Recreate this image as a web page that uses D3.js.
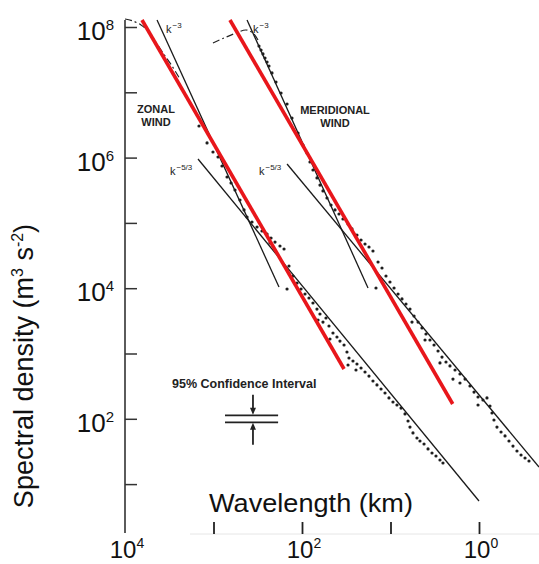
<!DOCTYPE html>
<html><head><meta charset="utf-8">
<script src="https://cdn.jsdelivr.net/npm/d3@7"></script>
<style>body{margin:0;background:#fff}svg{display:block;font-family:"Liberation Sans",Arial,Helvetica,sans-serif}</style>
</head><body>
<svg id="chart" width="539" height="564"></svg>
<script>
// All values are in decades: [log10 wavelength (km), log10 spectral density (m^3 s^-2)]
const yMajorTicks = [8, 6, 4, 2];
const yMinorTicks = [7, 5, 3, 1];
const xTicks = [3, 2, 1, 0];
const xTickLabels = [4, 2, 0];

const redZonal = [[3.808, 8.107], [1.525, 2.763]];
const redMeridional = [[2.814, 8.107], [0.297, 2.227]];

const zonalK3 = [[3.638, 8.107], [2.260, 4.018]];
const zonalK53 = [[3.175, 5.979], [0.0, 0.741]];
const meridionalK3 = [[2.621, 8.107], [1.254, 4.003]];
const meridionalK53 = [[2.169, 5.902], [-0.678, 1.262]];

const zonalDashed = [[4.000, 8.123], [3.910, 8.092], [3.819, 8.031], [3.740, 7.939], [3.661, 7.786],
  [3.571, 7.602], [3.469, 7.403], [3.379, 7.204]];
const meridionalDashed = [[3.006, 7.755], [2.881, 7.832], [2.746, 7.908], [2.633, 7.954], [2.554, 7.908], [2.497, 7.801]];

const zonalPoints = [
  [3.164, 6.484], [3.073, 6.224], [3.006, 6.086], [2.949, 6.009], [2.904, 5.871], [2.847, 5.703],
  [2.802, 5.611], [2.757, 5.504], [2.701, 5.351], [2.655, 5.198], [2.621, 5.090], [2.565, 5.014],
  [2.508, 4.937], [2.452, 4.876], [2.395, 4.830], [2.350, 4.769], [2.305, 4.707], [2.249, 4.646],
  [2.203, 4.600], [2.362, 4.692], [2.147, 4.340], [2.102, 4.187], [2.056, 4.080], [2.011, 3.988],
  [1.966, 3.911], [1.921, 3.850], [1.876, 3.773], [1.831, 3.681], [1.797, 3.605], [1.763, 3.482],
  [1.729, 3.544], [1.695, 3.421], [1.650, 3.314], [1.605, 3.253], [1.571, 3.191], [1.525, 3.130],
  [1.492, 3.023], [1.469, 2.931], [1.424, 2.885], [1.379, 2.839], [1.333, 2.778], [1.288, 2.717],
  [1.243, 2.655], [1.198, 2.579], [1.153, 2.518], [1.107, 2.456], [1.062, 2.395], [1.017, 2.319],
  [0.972, 2.257], [0.927, 2.211], [0.881, 2.165], [1.819, 3.513], [1.684, 3.222], [1.480, 2.824],
  [1.390, 2.747], [0.836, 2.074], [0.802, 1.966], [0.780, 1.874], [0.746, 1.783], [0.701, 1.706],
  [0.667, 1.660], [0.621, 1.614], [0.576, 1.538], [0.531, 1.476], [0.486, 1.430], [0.441, 1.369],
  [0.407, 1.323], [2.169, 3.988]
];

const meridionalPoints = [
  [2.486, 7.709], [2.463, 7.648], [2.441, 7.587], [2.418, 7.525], [2.395, 7.464], [2.373, 7.403],
  [2.339, 7.296], [2.294, 7.158], [2.237, 6.989], [2.169, 6.821], [2.113, 6.606], [2.045, 6.377],
  [1.989, 6.193], [1.944, 6.070], [1.910, 5.933], [1.876, 5.810], [1.831, 5.688], [1.797, 5.580],
  [1.763, 5.489], [1.718, 5.381], [1.672, 5.274], [1.627, 5.198], [1.582, 5.136], [1.537, 5.060],
  [1.480, 4.983], [1.435, 4.907], [1.379, 4.815], [1.333, 4.738], [1.288, 4.677], [1.243, 4.631],
  [1.198, 4.570], [1.141, 4.401], [1.096, 4.309], [1.051, 4.187], [1.006, 4.095], [0.960, 4.003],
  [0.915, 3.911], [0.870, 3.835], [0.825, 3.758], [0.780, 3.681], [0.734, 3.574], [0.689, 3.482],
  [0.644, 3.391], [0.599, 3.299], [0.554, 3.207], [0.508, 3.130], [0.463, 3.038], [0.418, 2.946],
  [0.373, 2.870], [0.328, 2.809], [0.271, 2.747], [0.215, 2.686], [0.158, 2.609], [0.102, 2.502],
  [0.056, 2.410], [0.011, 2.334], [-0.045, 2.288], [-0.090, 2.319], [-0.124, 2.196], [-0.147, 2.089],
  [-0.169, 1.982], [-0.203, 1.874], [-0.249, 1.798], [-0.294, 1.737], [-0.339, 1.660], [-0.384, 1.583],
  [-0.429, 1.507], [-0.475, 1.446], [-0.520, 1.400], [-0.565, 1.354], [0.294, 2.609], [0.011, 2.211],
  [0.441, 2.855], [0.610, 3.207], [0.757, 3.482], [0.215, 2.548], [1.164, 4.003]
];

// 95% confidence interval marker (centre at 10^2)
const ciCenter = [2.554, 2.0];
const ciSpan = [2.87, 2.27];

const svg = d3.select("#chart");
const x = d3.scaleLinear().domain([4, 0]).range([125, 479]);
const y = d3.scaleLinear().domain([8, 0]).range([27, 549.4]);
const line = d3.line().x(d => x(d[0])).y(d => y(d[1]));

// Y axis
svg.append("line").attr("x1", 125).attr("x2", 125).attr("y1", y(8.107)).attr("y2", y(0.25))
  .attr("stroke", "#333").attr("stroke-width", 1.6);
const gy = svg.append("g").attr("transform", "translate(125,0)")
  .call(d3.axisRight(y).tickValues(yMajorTicks.concat(yMinorTicks)).tickSize(12).tickFormat(""));
gy.select(".domain").remove();
gy.selectAll(".tick line").attr("stroke", "#333").attr("stroke-width", 1.5);

yMajorTicks.forEach(v => {
  const t = svg.append("text").attr("x", 114).attr("y", y(v) + 13).attr("text-anchor", "end")
    .attr("fill", "#111").attr("font-size", 26);
  t.append("tspan").text("10");
  t.append("tspan").attr("font-size", 15).attr("dy", -10).text(v);
});

// X axis
svg.append("line").attr("x1", 190).attr("x2", 539).attr("y1", 534).attr("y2", 534)
  .attr("stroke", "#e6e6e6").attr("stroke-width", 1);
const gx = svg.append("g").attr("transform", "translate(0,534)")
  .call(d3.axisTop(x).tickValues(xTicks).tickSize(12).tickFormat(""));
gx.select(".domain").remove();
gx.selectAll(".tick line").attr("stroke", "#222").attr("stroke-width", 1.8);

xTickLabels.forEach(v => {
  const t = svg.append("text").attr("x", x(v) + 2).attr("y", 558).attr("text-anchor", "middle")
    .attr("fill", "#111").attr("font-size", 24);
  t.append("tspan").text("10");
  t.append("tspan").attr("font-size", 14).attr("dy", -10).text(v);
});

svg.append("text").attr("x", 311).attr("y", 512).attr("text-anchor", "middle")
  .attr("font-size", 26).attr("fill", "#111").attr("textLength", 204).attr("lengthAdjust", "spacingAndGlyphs")
  .text("Wavelength (km)");

const yt = svg.append("text").attr("transform", "translate(33,366) rotate(-90)")
  .attr("text-anchor", "middle").attr("font-size", 27).attr("fill", "#111");
yt.append("tspan").text("Spectral density (m");
yt.append("tspan").attr("font-size", 16).attr("dy", -10).text("3");
yt.append("tspan").attr("dy", 10).text(" s");
yt.append("tspan").attr("font-size", 16).attr("dy", -10).text("-2");
yt.append("tspan").attr("dy", 10).text(")");

// Reference slope lines
[zonalK3, zonalK53, meridionalK3, meridionalK53].forEach(d => {
  svg.append("path").attr("d", line(d)).attr("fill", "none").attr("stroke", "#1a1a1a").attr("stroke-width", 1.3);
});

// Dash-dot low wavenumber segments
[zonalDashed, meridionalDashed].forEach(d => {
  svg.append("path").attr("d", d3.line().curve(d3.curveCatmullRom).x(p => x(p[0])).y(p => y(p[1]))(d))
    .attr("fill", "none").attr("stroke", "#222").attr("stroke-width", 1.2).attr("stroke-dasharray", "7,3,2,3");
});

// Data points
[zonalPoints, meridionalPoints].forEach(d => {
  svg.append("g").selectAll("circle").data(d).join("circle")
    .attr("cx", p => x(p[0])).attr("cy", p => y(p[1])).attr("r", 1.6).attr("fill", "#1e1e1e");
});

// Red lines
[redZonal, redMeridional].forEach(d => {
  svg.append("path").attr("d", line(d)).attr("fill", "none").attr("stroke", "#e8161b").attr("stroke-width", 3.6);
});

// Small labels
function smallLabel(lines, cx, y0) {
  lines.forEach((s, i) => svg.append("text").attr("x", cx).attr("y", y0 + i * 12.5).attr("text-anchor", "middle")
    .attr("font-size", 11).attr("font-weight", "bold").attr("fill", "#222").text(s));
}
smallLabel(["ZONAL", "WIND"], 156, 113);
smallLabel(["MERIDIONAL", "WIND"], 335, 114);

function kLabel(xk, yk, exp) {
  const t = svg.append("text").attr("x", xk).attr("y", yk).attr("font-size", 11).attr("fill", "#222");
  t.append("tspan").text("k");
  t.append("tspan").attr("font-size", 8).attr("dy", -5).attr("dx", 1).text(exp);
}
kLabel(166, 33, "\u22123");
kLabel(253, 33, "\u22123");
kLabel(170, 175, "\u22125/3");
kLabel(259, 175, "\u22125/3");

svg.append("text").attr("x", 172).attr("y", 388).attr("font-size", 12.5).attr("font-weight", "bold")
  .attr("fill", "#222").text("95% Confidence Interval");

// CI marker
const cx = x(ciCenter[0]), cy = y(ciCenter[1]);
svg.append("line").attr("x1", x(ciSpan[0])).attr("x2", x(ciSpan[1])).attr("y1", cy - 3.5).attr("y2", cy - 3.5)
  .attr("stroke", "#222").attr("stroke-width", 1.8);
svg.append("line").attr("x1", x(ciSpan[0])).attr("x2", x(ciSpan[1])).attr("y1", cy + 3.5).attr("y2", cy + 3.5)
  .attr("stroke", "#222").attr("stroke-width", 1.8);
svg.append("line").attr("x1", cx).attr("x2", cx).attr("y1", cy - 24).attr("y2", cy - 10)
  .attr("stroke", "#222").attr("stroke-width", 1.8);
svg.append("line").attr("x1", cx).attr("x2", cx).attr("y1", cy + 10).attr("y2", cy + 26)
  .attr("stroke", "#222").attr("stroke-width", 1.8);
svg.append("path").attr("d", `M${cx - 3},${cy - 11}L${cx + 3},${cy - 11}L${cx},${cy - 4}Z`).attr("fill", "#222");
svg.append("path").attr("d", `M${cx - 3},${cy + 11}L${cx + 3},${cy + 11}L${cx},${cy + 4}Z`).attr("fill", "#222");
</script>
</body></html>
